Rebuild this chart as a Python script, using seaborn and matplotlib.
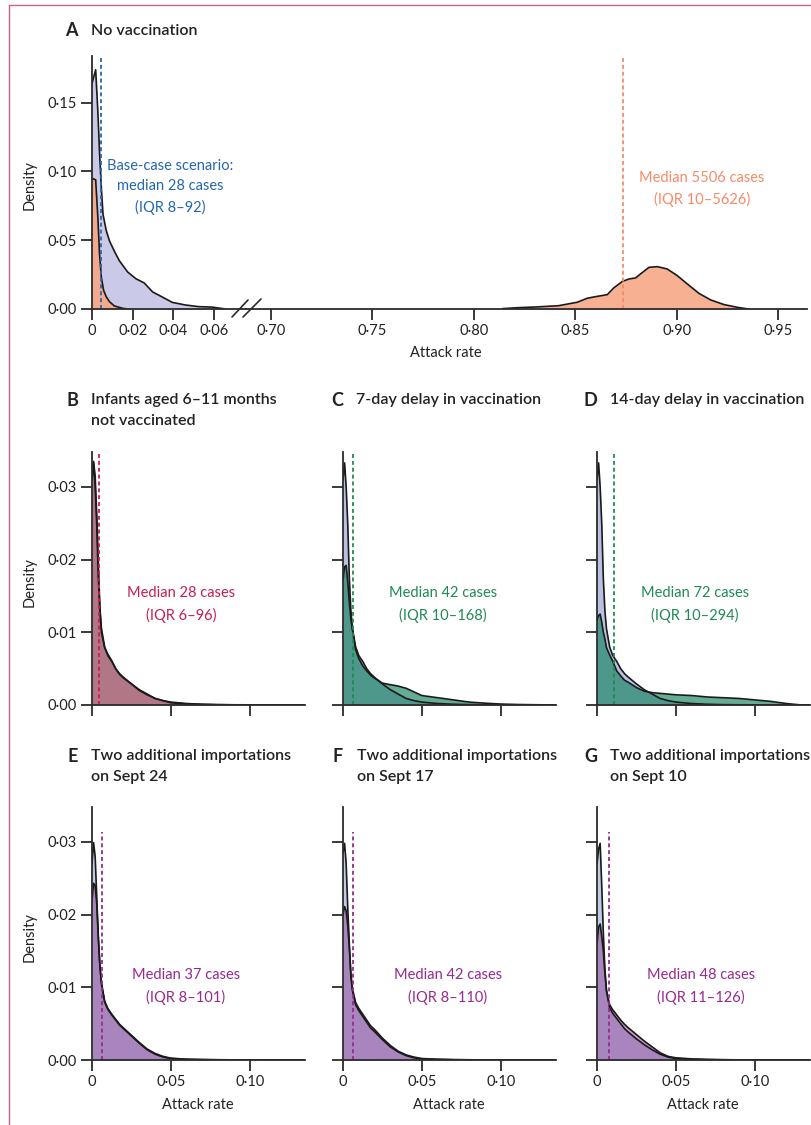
import pandas as pd
import seaborn as sns
import matplotlib.pyplot as plt
from matplotlib.lines import Line2D

# ---- panel A: base case vs no vaccination (attack rate densities) ----
a_base_x = [0, 0.0018, 0.0029, 0.0037, 0.0046, 0.0054, 0.0070, 0.0086, 0.0110, 0.0135,
            0.0176, 0.0216, 0.0257, 0.0298, 0.0338, 0.0395, 0.0460, 0.0525, 0.0590, 0.0655]
a_base_y = [0.164, 0.174, 0.143, 0.114, 0.088, 0.069, 0.057, 0.0495, 0.042, 0.035,
            0.0268, 0.022, 0.0189, 0.0124, 0.0093, 0.0048, 0.0029, 0.0017, 0.0014, 0.0]
a_novac_low_x = [0, 0.0018, 0.0029, 0.0037, 0.0046, 0.0057, 0.0070, 0.0086, 0.0110, 0.0151, 0.0176]
a_novac_low_y = [0.095, 0.094, 0.066, 0.040, 0.023, 0.0136, 0.0089, 0.0053, 0.0022, 0.0005, 0.0]
a_novac_high_x = [0.8143, 0.8225, 0.8310, 0.8418, 0.8510, 0.8559, 0.8609, 0.8658, 0.8690, 0.8732,
                  0.8765, 0.8798, 0.8822, 0.8864, 0.8905, 0.8954, 0.9003, 0.9053, 0.9110, 0.9168,
                  0.9234, 0.9300, 0.9354]
a_novac_high_y = [0.0003, 0.0010, 0.0015, 0.0024, 0.0049, 0.0078, 0.0092, 0.0104, 0.0153, 0.0200,
                  0.0218, 0.0226, 0.0255, 0.0303, 0.0308, 0.0291, 0.0243, 0.0182, 0.0114, 0.0066,
                  0.0032, 0.0012, 0.0]

# ---- panels B-G: shared attack-rate grid ----
grid = [0, 0.001, 0.002, 0.003, 0.004, 0.005, 0.006, 0.008, 0.010, 0.0125, 0.015, 0.0175, 0.020,
        0.025, 0.030, 0.035, 0.040, 0.045, 0.050, 0.060, 0.070, 0.080, 0.090, 0.100, 0.110,
        0.120, 0.128, 0.135]
base_bcd = [0.0310, 0.0333, 0.0300, 0.0250, 0.0175, 0.0130, 0.0105, 0.0080, 0.0068, 0.0060, 0.0050,
            0.0043, 0.0038, 0.0029, 0.0021, 0.0015, 0.0009, 0.0006, 0.0004, 0.0002, 0.0001,
            0.00005, 0.00003, 0.00002, 0.00001, 0, 0, 0]
scen_b = [0.0315, 0.0335, 0.0315, 0.0262, 0.0195, 0.0135, 0.0100, 0.0079, 0.0070, 0.0061, 0.0050,
          0.0042, 0.0037, 0.0029, 0.0020, 0.0014, 0.0009, 0.0006, 0.0003, 0.00015, 0.00008,
          0.00004, 0.00002, 0.00001, 0, 0, 0, 0]
scen_c = [0.0172, 0.0190, 0.0192, 0.0170, 0.0142, 0.0118, 0.0103, 0.0076, 0.0064, 0.0054, 0.0047,
          0.0041, 0.0037, 0.0030, 0.0028, 0.0026, 0.0023, 0.0018, 0.0013, 0.0010, 0.0007,
          0.0004, 0.00025, 0.00013, 0.00007, 0.00004, 0.00002, 0.00001]
scen_d = [0.0117, 0.0123, 0.0125, 0.0114, 0.0100, 0.0091, 0.0079, 0.0069, 0.0060, 0.0047, 0.0040,
          0.0034, 0.0031, 0.0024, 0.0019, 0.0017, 0.0016, 0.0015, 0.0014, 0.0013, 0.0011,
          0.0010, 0.0009, 0.0007, 0.0005, 0.0002, 0.00003, 0]
base_e = [0.0270, 0.0299, 0.0280, 0.0225, 0.0170, 0.0130, 0.0105, 0.0080, 0.0070, 0.0062, 0.0055,
          0.0048, 0.0043, 0.0033, 0.0023, 0.0014, 0.0008, 0.0004, 0.0002, 0.0001, 0.00005,
          0.00003, 0.00002, 0.00001, 0, 0, 0, 0]
scen_e = [0.0220, 0.0243, 0.0240, 0.0215, 0.0168, 0.0130, 0.0106, 0.0081, 0.0071, 0.0063, 0.0056,
          0.0049, 0.0044, 0.0034, 0.0024, 0.0015, 0.0009, 0.0005, 0.00025, 0.0001, 0.00006,
          0.00003, 0.00002, 0.00001, 0, 0, 0, 0]
base_f = [0.0285, 0.0298, 0.0270, 0.0210, 0.0160, 0.0115, 0.0095, 0.0076, 0.0068, 0.0060, 0.0052,
          0.0044, 0.0039, 0.0028, 0.0018, 0.0011, 0.0006, 0.0003, 0.00015, 0.00008, 0.00004,
          0.00002, 0.00001, 0, 0, 0, 0, 0]
scen_f = [0.0200, 0.0211, 0.0205, 0.0185, 0.0155, 0.0118, 0.0098, 0.0079, 0.0071, 0.0063, 0.0055,
          0.0047, 0.0042, 0.0030, 0.0020, 0.0012, 0.0007, 0.0004, 0.0002, 0.0001, 0.00005,
          0.00003, 0.00001, 0, 0, 0, 0, 0]
base_g = [0.0270, 0.0290, 0.0298, 0.0240, 0.0175, 0.0125, 0.0095, 0.0072, 0.0064, 0.0057, 0.0050,
          0.0043, 0.0038, 0.0029, 0.0021, 0.0014, 0.0008, 0.0004, 0.0002, 0.0001, 0.00005,
          0.00003, 0.00001, 0, 0, 0, 0, 0]
scen_g = [0.0160, 0.0183, 0.0187, 0.0170, 0.0150, 0.0120, 0.0096, 0.0076, 0.0069, 0.0062, 0.0055,
          0.0049, 0.0044, 0.0035, 0.0026, 0.0018, 0.0010, 0.0005, 0.0003, 0.00015, 0.00008,
          0.00004, 0.00002, 0.00001, 0, 0, 0, 0]

# medians (attack rate) and labels
median_a_base, median_a_novac = 0.0045, 0.8736
medians_small = [0.0045, 0.0065, 0.0108, 0.0061, 0.0065, 0.0076]
panel_letters = ['B', 'C', 'D', 'E', 'F', 'G']
panel_titles = [['Infants aged 6–11 months', 'not vaccinated'],
                ['7-day delay in vaccination'],
                ['14-day delay in vaccination'],
                ['Two additional importations', 'on Sept 24'],
                ['Two additional importations', 'on Sept 17'],
                ['Two additional importations', 'on Sept 10']]
panel_notes = [['Median 28 cases', '(IQR 6–96)'],
               ['Median 42 cases', '(IQR 10–168)'],
               ['Median 72 cases', '(IQR 10–294)'],
               ['Median 37 cases', '(IQR 8–101)'],
               ['Median 42 cases', '(IQR 8–110)'],
               ['Median 48 cases', '(IQR 11–126)']]

a_yticks = [0, 0.05, 0.10, 0.15]
a_yticklabels = ['0·00', '0·05', '0·10', '0·15']
a_left_xticks = [0, 0.02, 0.04, 0.06]
a_left_xticklabels = ['0', '0·02', '0·04', '0·06']
a_right_xticks = [0.70, 0.75, 0.80, 0.85, 0.90, 0.95]
a_right_xticklabels = ['0·70', '0·75', '0·80', '0·85', '0·90', '0·95']
s_yticks = [0, 0.01, 0.02, 0.03]
s_yticklabels = ['0·00', '0·01', '0·02', '0·03']
s_xticks = [0, 0.05, 0.10]
s_xticklabels = ['0', '0·05', '0·10']

sns.set_theme(style='ticks')
plt.rcParams['font.family'] = ['Lato', 'DejaVu Sans']

W, H = 812, 1125
fig = plt.figure(figsize=(W / 100, H / 100), dpi=100)
INK = '#2b2b2b'


def px_axes(x0, y0, x1, y1):
    return fig.add_axes([x0 / W, 1 - y1 / H, (x1 - x0) / W, (y1 - y0) / H])


def ftext(x, y, s, **kw):
    fig.text(x / W, 1 - y / H, s, va='center', **kw)


def density(ax, x, y, fill, alpha=1.0):
    df = pd.DataFrame({'x': x, 'y': y})
    ax.fill_between(df['x'], df['y'], color=fill, alpha=alpha, lw=0)
    return df


def outline(ax, df):
    sns.lineplot(data=df, x='x', y='y', ax=ax, color='#1a1a1a', lw=1.2,
                 estimator=None, sort=False)
    ax.set(xlabel='', ylabel='')


def style(ax, left=True):
    sns.despine(ax=ax, left=not left)
    for s in ['left', 'bottom']:
        ax.spines[s].set_color(INK)
        ax.spines[s].set_linewidth(1.3)
    ax.tick_params(direction='out', length=8, width=1.3, color=INK,
                   labelsize=10.5, labelcolor='#222222', pad=3)
    ax.set_facecolor('none')


# ---------------- panel A ----------------
axl = px_axes(92, 56, 246, 309)
axr = px_axes(246, 56, 807, 309)
for ax in (axl, axr):
    ax.set_ylim(0, 0.184)
axl.set_xlim(0, 0.0757)
axr.set_xlim(0.6877, 0.9643)

d_base = density(axl, a_base_x, a_base_y, '#cbc9e8')
d_low = density(axl, a_novac_low_x, a_novac_low_y, '#f6a888', 0.95)
d_high = density(axr, a_novac_high_x, a_novac_high_y, '#f8b092')
outline(axl, d_base)
outline(axl, d_low)
outline(axr, d_high)
axl.axvline(median_a_base, color='#2467ad', ls=(0, (2.2, 1.6)), lw=1.3)
axr.axvline(median_a_novac, color='#f58b66', ls=(0, (2.2, 1.6)), lw=1.3)

style(axl)
style(axr, left=False)
axl.spines['right'].set_visible(False)
axl.set_yticks(a_yticks, a_yticklabels)
axl.set_xticks(a_left_xticks, a_left_xticklabels)
axr.set_yticks([])
axr.set_xticks(a_right_xticks, a_right_xticklabels)

for (x0, y0, x1, y1) in [(232, 317, 248, 300), (243, 317, 261, 299)]:
    fig.add_artist(Line2D([x0 / W, x1 / W], [1 - y0 / H, 1 - y1 / H], color=INK, lw=1.2))

ftext(78, 31, 'A', ha='right', fontsize=13, fontweight='bold', color='#222222')
ftext(91, 31, 'No vaccination', ha='left', fontsize=11.5, fontweight='semibold', color='#222222')
for i, s in enumerate(['Base-case scenario:', 'median 28 cases', '(IQR 8–92)']):
    ftext(170, 166 + 20.5 * i, s, ha='center', fontsize=10.5, color='#2467ad')
for i, s in enumerate(['Median 5506 cases', '(IQR 10–5626)']):
    ftext(702, 178 + 21 * i, s, ha='center', fontsize=10.5, color='#f58b66')
ftext(30, 185, 'Density', ha='center', rotation=90, fontsize=10.5, color='#222222')
ftext(446, 353, 'Attack rate', ha='center', fontsize=10.5, color='#222222')

# ---------------- panels B-G ----------------
spines_x = [92, 343, 597, 92, 343, 597]
rows_y = [(452, 705), (452, 705), (452, 705), (807, 1060), (807, 1060), (807, 1060)]
letter_right = [78, 343, 597, 78, 343, 597]
title_left = [91, 356, 610, 91, 357, 610]
title_y = [400, 400, 400, 756, 756, 756]
note_x = [181, 443, 695, 186, 448, 701]
note_y = [593, 593, 593, 975, 975, 975]

bases = [base_bcd, base_bcd, base_bcd, base_e, base_f, base_g]
scens = [scen_b, scen_c, scen_d, scen_e, scen_f, scen_g]
base_fill = ['#b9c0e2', '#b9c0e2', '#b9c0e2', '#c0cce8', '#c0cce8', '#c0cce8']
scen_fill = ['#ab3b3d', '#1a8560', '#1a8560', '#913f91', '#913f91', '#913f91']
scen_alpha = [0.55, 0.68, 0.68, 0.5, 0.5, 0.5]
accent = ['#c81e50', '#1f8a55', '#1f8a55', '#99288f', '#99288f', '#99288f']
dash_top = [1.0, 1.0, 1.0, 0.90, 0.90, 0.90]

for i in range(6):
    x0 = spines_x[i]
    y0, y1 = rows_y[i]
    ax = px_axes(x0, y0, x0 + 213, y1)
    ax.set_xlim(0, 0.135)
    ax.set_ylim(0, 0.0348)
    db = density(ax, grid, bases[i], base_fill[i])
    ds = density(ax, grid, scens[i], scen_fill[i], scen_alpha[i])
    outline(ax, db)
    outline(ax, ds)
    ax.axvline(medians_small[i], ymax=dash_top[i], color=accent[i], ls=(0, (2.2, 1.6)), lw=1.3)
    style(ax)
    ax.set_yticks(s_yticks, s_yticklabels if i in (0, 3) else [])
    ax.set_xticks(s_xticks, s_xticklabels if i >= 3 else [])

    ftext(letter_right[i], title_y[i], panel_letters[i], ha='right', fontsize=13,
          fontweight='bold', color='#222222')
    for j, s in enumerate(panel_titles[i]):
        ftext(title_left[i], title_y[i] + 21 * j, s, ha='left', fontsize=11.5,
              fontweight='semibold', color='#222222')
    for j, s in enumerate(panel_notes[i]):
        ftext(note_x[i], note_y[i] + 22 * j, s, ha='center', fontsize=10.5, color=accent[i])
    if i in (0, 3):
        ftext(30, (y0 + y1) / 2 + 4, 'Density', ha='center', rotation=90, fontsize=10.5,
              color='#222222')
    if i >= 3:
        ftext(x0 + 106, 1105, 'Attack rate', ha='center', fontsize=10.5, color='#222222')

# page frame
fig.add_artist(Line2D([9 / W, 1], [1 - 4.5 / H, 1 - 4.5 / H], color='#d4607f', lw=1.0))
fig.add_artist(Line2D([9 / W, 9 / W], [0, 1 - 4.5 / H], color='#d4607f', lw=1.0))

fig.savefig('out.png', dpi=100)
